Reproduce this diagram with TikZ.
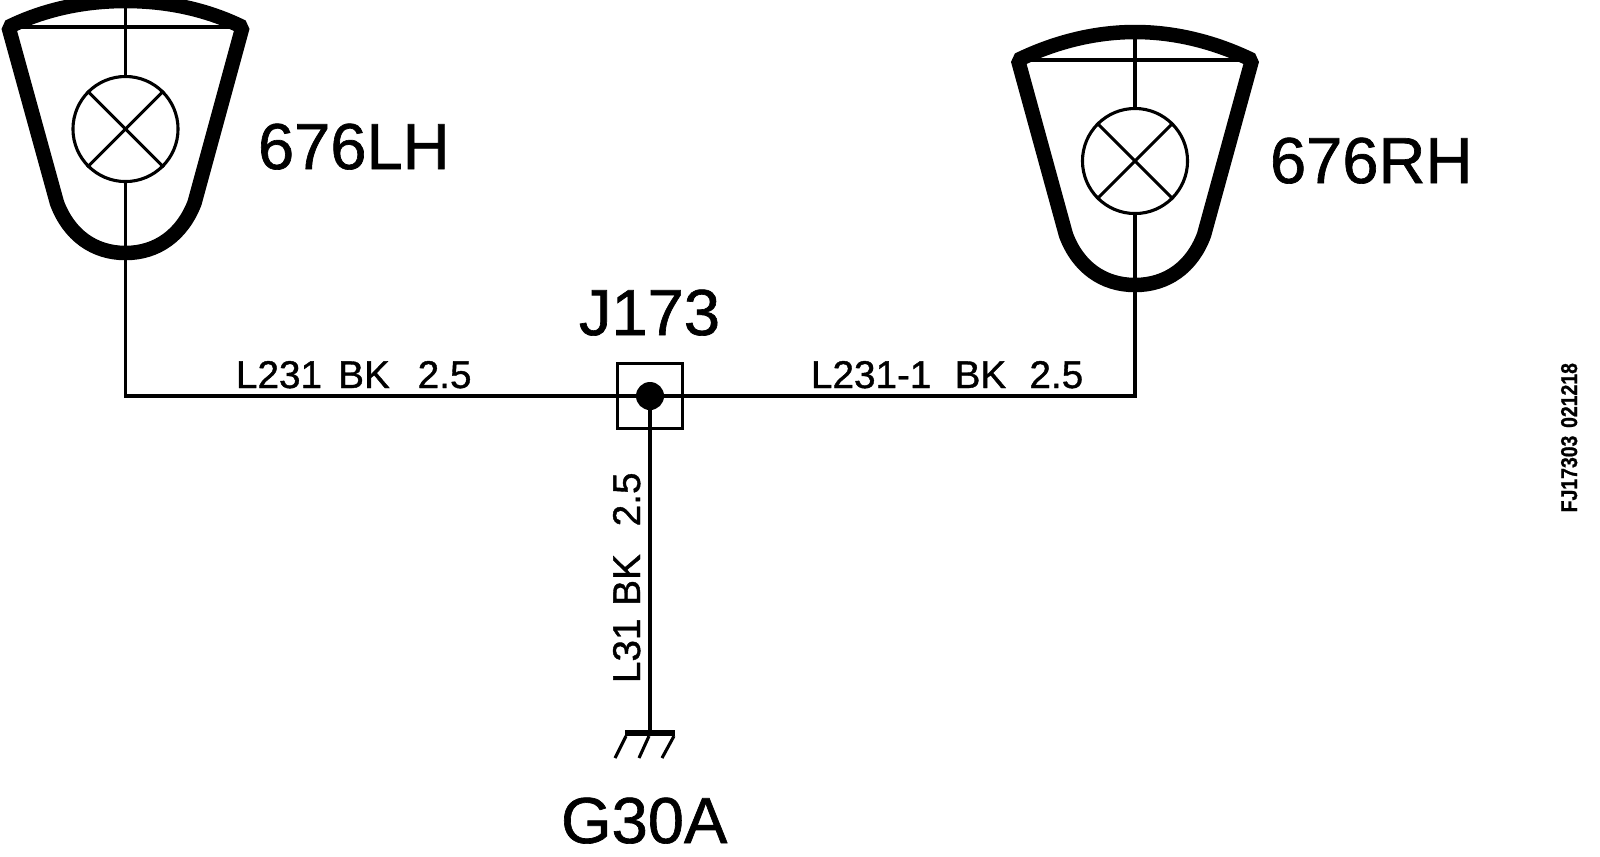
\documentclass[tikz,border=0pt]{standalone}
\usepackage{fontspec}
\setmainfont[FakeBold=1]{Liberation Sans}
\tikzset{
  body/.style={line width=1.45mm,line join=bevel},
  wire/.style={line width=.35mm},
  thin wire/.style={line width=.31mm},
  bulb/.style={circle,draw,line width=.31mm,minimum size=1.05cm,inner sep=0pt},
  big/.style={anchor=base west,inner sep=0pt,outer sep=0pt,font=\fontsize{18.5}{20}\selectfont},
  small/.style={anchor=base west,inner sep=0pt,outer sep=0pt,font=\fontsize{11}{12}\selectfont},
}
\begin{document}
\begin{tikzpicture}[x=0.01cm,y=-0.01cm]
    \useasboundingbox (0,0) rectangle (1600,856);

    \begin{scope}[shift={(0.5,0)}]
    \coordinate (ltop) at (125,1);
    \coordinate (lc1) at (8,27);
    \coordinate (lc2) at (242,27);
    \node[bulb] (lb) at (125,129) {};
    \end{scope}
    \begin{scope}[shift={(1010,32)}]
    \coordinate (rtop) at (125,0);
    \coordinate (rc1) at (8,28);
    \coordinate (rc2) at (242,28);
    \node[bulb] (rb) at (125,129) {};
    \end{scope}

    \node[draw,line width=.33mm,minimum size=.646cm,inner sep=0pt] (j1) at (650,396) {};
    \node[circle,fill,minimum size=.28cm,inner sep=0pt] (d1) at (j1.center) {};
    \coordinate (g1) at (650,733);
    \coordinate (g2) at (625,733);
    \coordinate (g3) at (675,733);

    \node[big] (t1) at (258,169) {676LH};
    \node[big] (t2) at (1270,183) {676RH};
    \node[big] (t3) at (579,335) {J173};
    \node[big] (t4) at (561,843) {G30A};
    \node[small] (w1) at (236,388) {L231\hspace{.42em}BK\hspace{.72em}2.5};
    \node[small] (w2) at (811,388) {L231-1\hspace{.6em}BK\hspace{.6em}2.5};
    \node[small,rotate=90] (w3) at (640,683) {L31\hspace{.33em}BK\hspace{.72em}2.5};
    \node[anchor=base west,inner sep=0pt,rotate=90,font=\fontsize{6.5}{8}\selectfont\bfseries] (fj) at (1577,513) {\scalebox{.85}[1]{FJ17303\hspace{.4em}021218}};

    % lamp bodies
    \draw[body] (lc1) .. controls (45,9) and (85,1) .. (ltop) .. controls (166,1) and (206,9) .. (lc2)
      -- (194.5,203) .. controls (182,235) and (157,253) .. (125.5,253) .. controls (94,253) and (69,235) .. (57,203) -- cycle;
    \draw[body] (rc1) .. controls (1055,42) and (1095,32) .. (rtop) .. controls (1175,32) and (1215,42) .. (rc2)
      -- (1204,235) .. controls (1192,267) and (1167,285) .. (1135,285) .. controls (1103,285) and (1078,267) .. (1066,235) -- cycle;

    \draw[thin wire] (lc1) -- (lc2);
    \draw[thin wire] (rc1) -- (rc2);
    \draw[thin wire] (ltop) -- (lb.north);
    \draw[thin wire] (rtop) -- (rb.north);
    \draw[thin wire] (lb.45) -- (lb.225);
    \draw[thin wire] (lb.135) -- (lb.315);
    \draw[thin wire] (rb.45) -- (rb.225);
    \draw[thin wire] (rb.135) -- (rb.315);

    % wires
    \draw[wire] (lb.south) -- (lb.south |- j1.center) -- (rb.south |- j1.center) -- (rb.south);
    \draw[thin wire] (j1.center) -- (g1);

    % ground
    \draw[line width=.55mm] (g2) -- (g3);
    \draw[thin wire] (g2) ++(1,3) -- ++(-11,22);
    \draw[thin wire] (g1) ++(-1,3) -- ++(-10,22);
    \draw[thin wire] (g3) ++(-1,3) -- ++(-12,22);
  \end{tikzpicture}
\end{document}
